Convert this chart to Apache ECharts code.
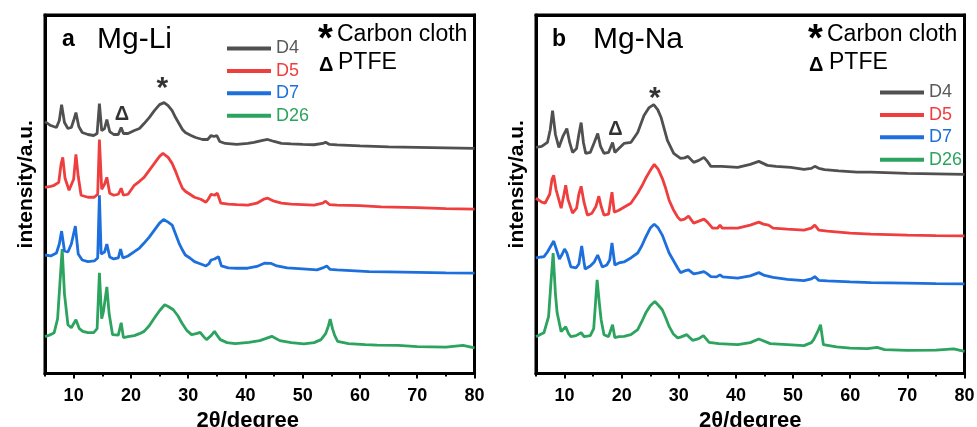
<!DOCTYPE html>
<html>
<head>
<meta charset="utf-8">
<script src="https://cdn.jsdelivr.net/npm/echarts@6/dist/echarts.min.js"></script>
<style>
  html, body { margin: 0; padding: 0; background: #fff; }
  #chart { width: 977px; height: 427px; }
</style>
</head>
<body>
<div id="chart"></div>
<script>
// XRD traces, [2theta, offset intensity]
const liD4 = [[5,253],[6,249],[7,247],[7.5,254],[7.9,270],[8.4,252],[9,246],[9.6,247],[10,254],[10.4,262],[10.9,248],[11.5,242],[12.5,240],[13.5,239],[14.1,241],[14.5,271],[14.9,244],[15.4,246],[15.8,255],[16.3,243],[17,240],[17.8,240],[18.3,247],[18.7,241],[19.5,241],[20.6,244],[21.5,246],[22.3,251],[23.2,257],[24.1,264],[25,270],[25.8,272],[26.5,269],[27.2,264],[27.8,257],[28.4,251],[29,245],[29.5,242],[30.5,239],[31.3,237],[32.5,235],[33.4,235],[34,239],[34.5,238],[35,239],[35.5,233],[36.5,231],[38.5,230],[40.4,231],[41.5,232],[43,234],[43.9,235],[45,233],[46.3,231],[48,230.5],[50,230],[52,229.7],[53.5,231],[54,232.3],[54.7,230],[56,229.5],[60,228.5],[65,227.5],[70,227],[75,226.5],[80,226]];
const liD5 = [[5,187],[6,188],[6.6,189],[7.4,192],[7.8,210],[8.1,217],[8.5,196],[9.2,184],[10,195],[10.4,220],[10.8,198],[11.3,179],[12.5,177],[13.6,177],[14.2,180],[14.5,235],[14.9,185],[15.4,190],[15.8,197],[16.3,181],[17,179],[17.8,180],[18.3,186],[18.7,179],[19.5,180],[20.6,189],[21.5,193],[22.3,197],[23.2,204],[24.1,211],[25,218],[25.6,221],[26.5,217],[27.2,211],[27.8,203],[28.4,194],[29,186],[29.5,183],[30.3,180],[31.1,177],[32.2,175],[33.1,172],[33.5,175],[34,180],[34.6,179],[35.1,181],[35.7,171],[37,170],[38.5,169.5],[40.4,169],[42,171],[43.2,175],[43.9,176],[45,173],[46.3,171],[48,170],[50,169.5],[52,169],[53.5,171],[54,173],[54.7,169.5],[56,169],[60,168.5],[63.7,167.3],[70,166.5],[75,165.5],[80,165]];
const liD7 = [[5,119],[6,118],[7,121],[7.5,130],[7.9,143],[8.4,123],[9,122],[9.6,130],[10.3,148],[10.8,120],[11.5,114],[12.5,112.3],[13.6,113],[14.2,116],[14.5,179],[14.8,120],[15.4,122],[15.8,130],[16.3,117],[17,115],[17.8,116],[18.2,125],[18.6,116],[19.5,118],[20.6,122.3],[21.5,126],[22.3,131],[23.2,137],[24.1,144],[25,151],[25.7,154.7],[26.5,152],[27.2,149],[27.8,140],[28.4,131],[29,124],[29.5,119],[30.3,116],[31.1,112.3],[32.2,110],[33.1,108],[33.6,110],[34,114],[34.6,115],[35.3,117.3],[35.8,108],[37,106],[38.5,105.7],[40.4,105.7],[42,107.5],[43.3,110.7],[44.5,110.5],[45.5,108],[47.3,106],[50,105],[52.5,104],[53.5,106],[54.2,108],[54.8,104.5],[56,104],[61.6,102.3],[65,102],[70,101.5],[75,101],[80,100.7]];
const liD26 = [[5,37],[6,39],[6.6,41],[7.2,55],[7.6,90],[8,125],[8.4,80],[9,49],[9.6,46],[10.4,54],[11,45],[11.6,42.3],[12.5,41],[13.5,41],[14.1,45],[14.5,101],[14.9,55],[15.2,62],[15.8,87],[16.2,60],[16.8,39],[17.8,38.5],[18.3,51],[18.7,36],[19.5,37],[20.6,38],[21.5,40],[22.3,42.3],[23.2,48],[24.1,55.7],[25,63],[25.9,69],[26.6,67],[27.4,64],[28.2,58],[28.9,50.7],[29.8,43],[30.6,39],[31.4,40],[32.1,41.3],[32.7,37],[33.2,34],[34,38],[34.6,42.3],[35.1,38],[35.6,34],[36.8,31],[38.2,30],[40.6,31.3],[42.5,33],[43.5,35],[44.6,37.3],[46,33],[48,31],[50.2,29.7],[52,31],[53.2,34],[54,40],[54.5,48],[54.8,54.7],[55.2,45],[55.6,38],[56.1,32.3],[58,30],[60.9,29],[63,28.5],[66.7,28.3],[70,27],[75,26.5],[78,28.3],[80,25.7]];

const naD4 = [[5,227],[6,228],[7,232],[7.5,245],[7.9,264],[8.4,240],[9,227],[9.7,238],[10.4,246],[10.9,232],[11.4,222],[12.1,226],[12.5,240],[12.9,252],[13.3,232],[13.7,221],[14.5,222],[15.2,232],[15.8,241],[16.3,228],[16.9,221],[17.7,222],[18.4,232],[18.8,222],[19.5,226],[20.4,231],[21.6,232],[22.8,242],[23.9,259],[24.8,267],[25.6,270],[26.3,265],[26.9,257],[28,234],[29.1,221],[30.3,216],[31,216.5],[31.6,218],[32.6,212],[33.5,214],[34.4,217],[35,213],[35.6,208],[37.5,208],[40.3,207],[42.5,210],[44,213],[45.5,209],[47,208],[49.6,207],[51.9,205],[53.2,206],[53.8,208],[54.5,206],[55.5,204.7],[58,203.5],[61.2,202.3],[63.6,202.3],[70,201],[75,200.5],[80,200]];
const naD5 = [[5,176],[6,172],[6.6,171],[7.4,180],[7.8,195],[8.1,199],[8.5,185],[9.4,166],[9.9,180],[10.2,189],[10.6,175],[11.4,161],[12.1,166],[12.5,180],[12.9,188],[13.4,172],[14,159],[14.8,161],[15.5,168],[16,178],[16.4,168],[16.9,159],[17.7,160],[18.3,182],[18.7,162],[19.5,164],[20.4,167],[21.6,171],[22.8,181],[23.5,188],[24.2,196],[25,204],[25.7,210],[26.4,205],[27.1,196],[27.7,186],[28.3,174],[29,165],[29.8,157],[30.3,154],[31,155],[31.7,158],[32.6,151],[33.5,153],[34.4,155],[35,152],[35.9,146],[36.8,146],[37.2,149],[37.6,146],[40.3,146],[42.5,149],[44,152],[44.8,150],[45.7,149],[46.5,146],[49,145],[51.9,144],[53.2,146],[53.8,149],[54.5,144],[56,143],[60,141],[63.6,140],[70,139],[75,138.5],[80,138.3]];
const naD7 = [[5,116],[6,117],[6.4,117.3],[7,122],[7.6,128],[8.1,133],[8.6,124],[9.1,115],[9.6,120],[10,125],[10.4,121],[11.1,107],[12,106],[12.5,110],[13,128],[13.4,112],[13.6,105],[14.5,108],[15.2,112],[15.8,119],[16.6,107],[17.4,109],[17.9,114],[18.3,131],[18.8,109],[19.5,111],[20.4,112],[21.6,116],[22.8,121],[23.5,128],[24.2,137],[25,146],[25.7,150],[26.4,146],[27.1,139],[27.7,130],[28.3,121],[29,114],[29.8,106],[30.3,101.3],[31,103],[31.7,104],[32.6,100],[33.5,101],[34.4,102.3],[35,100],[35.6,97.3],[36.6,97],[37.2,99],[37.7,97],[40.3,95.7],[42.5,98],[44,101.3],[45,98.5],[46.5,96.5],[49,94.5],[51.9,93.3],[53.2,95],[53.8,97.3],[54.5,93.5],[56,93],[60,92],[63.6,91.3],[70,90.7],[75,90.2],[80,90]];
const naD26 = [[5,37],[6,40],[6.4,41],[7.2,57],[7.6,90],[8,121],[8.4,80],[8.7,61],[9.4,42],[10.2,47],[10.7,40],[11.1,37],[12,38],[12.9,41],[13.4,37],[14.5,38],[15.1,45],[15.7,94],[16.1,70],[16.4,54],[16.9,39],[17.7,37],[18.4,49],[18.8,36],[19.5,37],[20.4,37.3],[21.6,39],[22.8,44],[23.5,52],[24.2,60.7],[25,68],[25.8,72.3],[26.5,68],[27.1,64],[27.7,56],[28.3,47.3],[29,40],[29.8,35.7],[30.3,36.5],[31.4,39],[32.4,33.3],[33.5,35],[34.3,38],[35.3,31.3],[37,30],[40.3,29],[42.5,31],[44,34.7],[46,30],[49,29],[51.9,28],[53.2,31],[53.6,34],[54.3,42],[54.8,49],[55.3,29],[57.6,26.7],[60,25.5],[63,25],[64.7,26.3],[66,24],[70,23.3],[75,23.5],[78.1,24.7],[80,22.3]];

const sampleNames = ["D4", "D5", "D7", "D26"];
const lineColors = ["#505050", "#ef3e3e", "#1c6fdc", "#2ca35e"];
const textColors = ["#5a5a5a", "#ef3e3e", "#1c6fdc", "#2ca35e"];

// x ticks: labelled every 10, short ticks in between
const majorTicks = [10, 20, 30, 40, 50, 60, 70, 80];
const minorTicks = [5, 15, 25, 35, 45, 55, 65, 75];

// peak markers: carbon cloth (*) and PTFE (Δ)
const markText = ["*", "Δ"];
const liMarks = [[25.5, 285.5], [18.45, 260]];
const naMarks = [[25.8, 276], [18.9, 245.5]];

const FONT = "Liberation Sans";
const chart = echarts.init(document.getElementById("chart"));

const frameLine = { show: true, onZero: false, lineStyle: { color: "#000", width: 3 } };

const makeX = (gi, pad) => ({
  type: "value",
  gridIndex: gi,
  min: 5,
  max: 80,
  interval: 5,
  name: "2θ/degree",
  nameLocation: "middle",
  nameGap: 33,
  nameTextStyle: { fontSize: 22, fontWeight: "bold", color: "#000", padding: pad },
  axisLine: frameLine,
  axisTick: { length: 5, customValues: majorTicks, lineStyle: { color: "#000", width: 2 } },
  axisLabel: {
    fontSize: 18,
    fontWeight: "bold",
    color: "#000",
    margin: 14,
    customValues: majorTicks,
  },
  splitLine: { show: false },
});

// second axis on the same grid, only for the short ticks
const makeMinorX = (gi) => ({
  type: "value",
  gridIndex: gi,
  min: 5,
  max: 80,
  interval: 5,
  position: "bottom",
  axisLine: { show: false },
  axisTick: { length: 3, customValues: minorTicks, lineStyle: { color: "#000", width: 2 } },
  axisLabel: { show: false },
  splitLine: { show: false },
});

// top edge of the frame
const makeTopX = (gi) => ({
  type: "value",
  gridIndex: gi,
  min: 5,
  max: 80,
  position: "top",
  axisLine: frameLine,
  axisTick: { show: false },
  axisLabel: { show: false },
  splitLine: { show: false },
});

const makeY = (gi) => ({
  type: "value",
  gridIndex: gi,
  min: 0,
  max: 360,
  position: "left",
  name: "intensity/a.u.",
  nameLocation: "middle",
  nameGap: 8,
  nameTextStyle: { fontSize: 21, fontWeight: "bold", color: "#000", padding: [0, 0, 0, 20] },
  axisLine: frameLine,
  axisTick: { show: false },
  axisLabel: { show: false },
  splitLine: { show: false },
});

// right edge of the frame
const makeRightY = (gi) => ({
  type: "value",
  gridIndex: gi,
  min: 0,
  max: 360,
  position: "right",
  axisLine: frameLine,
  axisTick: { show: false },
  axisLabel: { show: false },
  splitLine: { show: false },
});

const lineSeries = (data, i, gi) => ({
  name: sampleNames[i],
  type: "line",
  xAxisIndex: gi,
  yAxisIndex: gi,
  data: data,
  showSymbol: false,
  color: lineColors[i],
  lineStyle: { width: 2.8, color: lineColors[i] },
  z: 10 - i,
});

const markSeries = (marks, gi) => ({
  type: "scatter",
  xAxisIndex: gi,
  yAxisIndex: gi,
  symbol: "circle",
  symbolSize: 1,
  itemStyle: { color: "rgba(0,0,0,0)" },
  silent: true,
  z: 20,
  data: marks.map((m, i) => ({
    value: m,
    label: {
      show: true,
      position: "inside",
      formatter: markText[i],
      fontSize: i === 0 ? 30 : 20,
      fontWeight: "bold",
      color: "#000",
      textBorderWidth: 0,
    },
  })),
});

const legendData = sampleNames.map((n, i) => ({ name: n, textStyle: { color: textColors[i] } }));
const makeLegend = (left, top) => ({
  data: legendData,
  orient: "vertical",
  left: left,
  top: top,
  icon: "rect",
  itemWidth: 44,
  itemHeight: 4,
  itemGap: 3.4,
  selectedMode: false,
  textStyle: { fontSize: 18, lineHeight: 19, fontFamily: FONT },
});

const txt = (x, y, text, size, weight) => ({
  type: "text",
  x: x,
  y: y,
  style: {
    text: text,
    fontSize: size,
    fontWeight: weight || "normal",
    fontFamily: FONT,
    fill: "#000",
    verticalAlign: "middle",
    align: "left",
  },
});

const gridBase = { top: 15, bottom: 53.5, show: true, borderColor: "#000", borderWidth: 3, outerBoundsMode: "none" };

const option = {
  backgroundColor: "#fff",
  animation: false,
  textStyle: { fontFamily: FONT },
  grid: [
    Object.assign({ left: 45, right: 502.5 }, gridBase),
    Object.assign({ left: 536, right: 12.5 }, gridBase),
  ],
  xAxis: [makeX(0, [0, 24, 0, 0]), makeX(1, 0), makeMinorX(0), makeMinorX(1), makeTopX(0), makeTopX(1)],
  yAxis: [makeY(0), makeY(1), makeRightY(0), makeRightY(1)],
  legend: [makeLegend(222, 34), makeLegend(875, 78)],
  series: [
    lineSeries(liD4, 0, 0),
    lineSeries(liD5, 1, 0),
    lineSeries(liD7, 2, 0),
    lineSeries(liD26, 3, 0),
    lineSeries(naD4, 0, 1),
    lineSeries(naD5, 1, 1),
    lineSeries(naD7, 2, 1),
    lineSeries(naD26, 3, 1),
    markSeries(liMarks, 0),
    markSeries(naMarks, 1),
  ],
  graphic: [
    txt(62, 40, "a", 23, "bold"),
    txt(97, 40, "Mg-Li", 30),
    txt(318, 41, "*", 38, "bold"),
    txt(337, 35, "Carbon cloth", 23),
    txt(319, 65, "Δ", 20, "bold"),
    txt(338, 63, "PTFE", 23),
    txt(552, 40, "b", 23, "bold"),
    txt(593, 40, "Mg-Na", 30),
    txt(808, 41, "*", 38, "bold"),
    txt(827, 35, "Carbon cloth", 23),
    txt(809, 65, "Δ", 20, "bold"),
    txt(829, 63, "PTFE", 23),
  ],
};

chart.setOption(option);
</script>
</body>
</html>
